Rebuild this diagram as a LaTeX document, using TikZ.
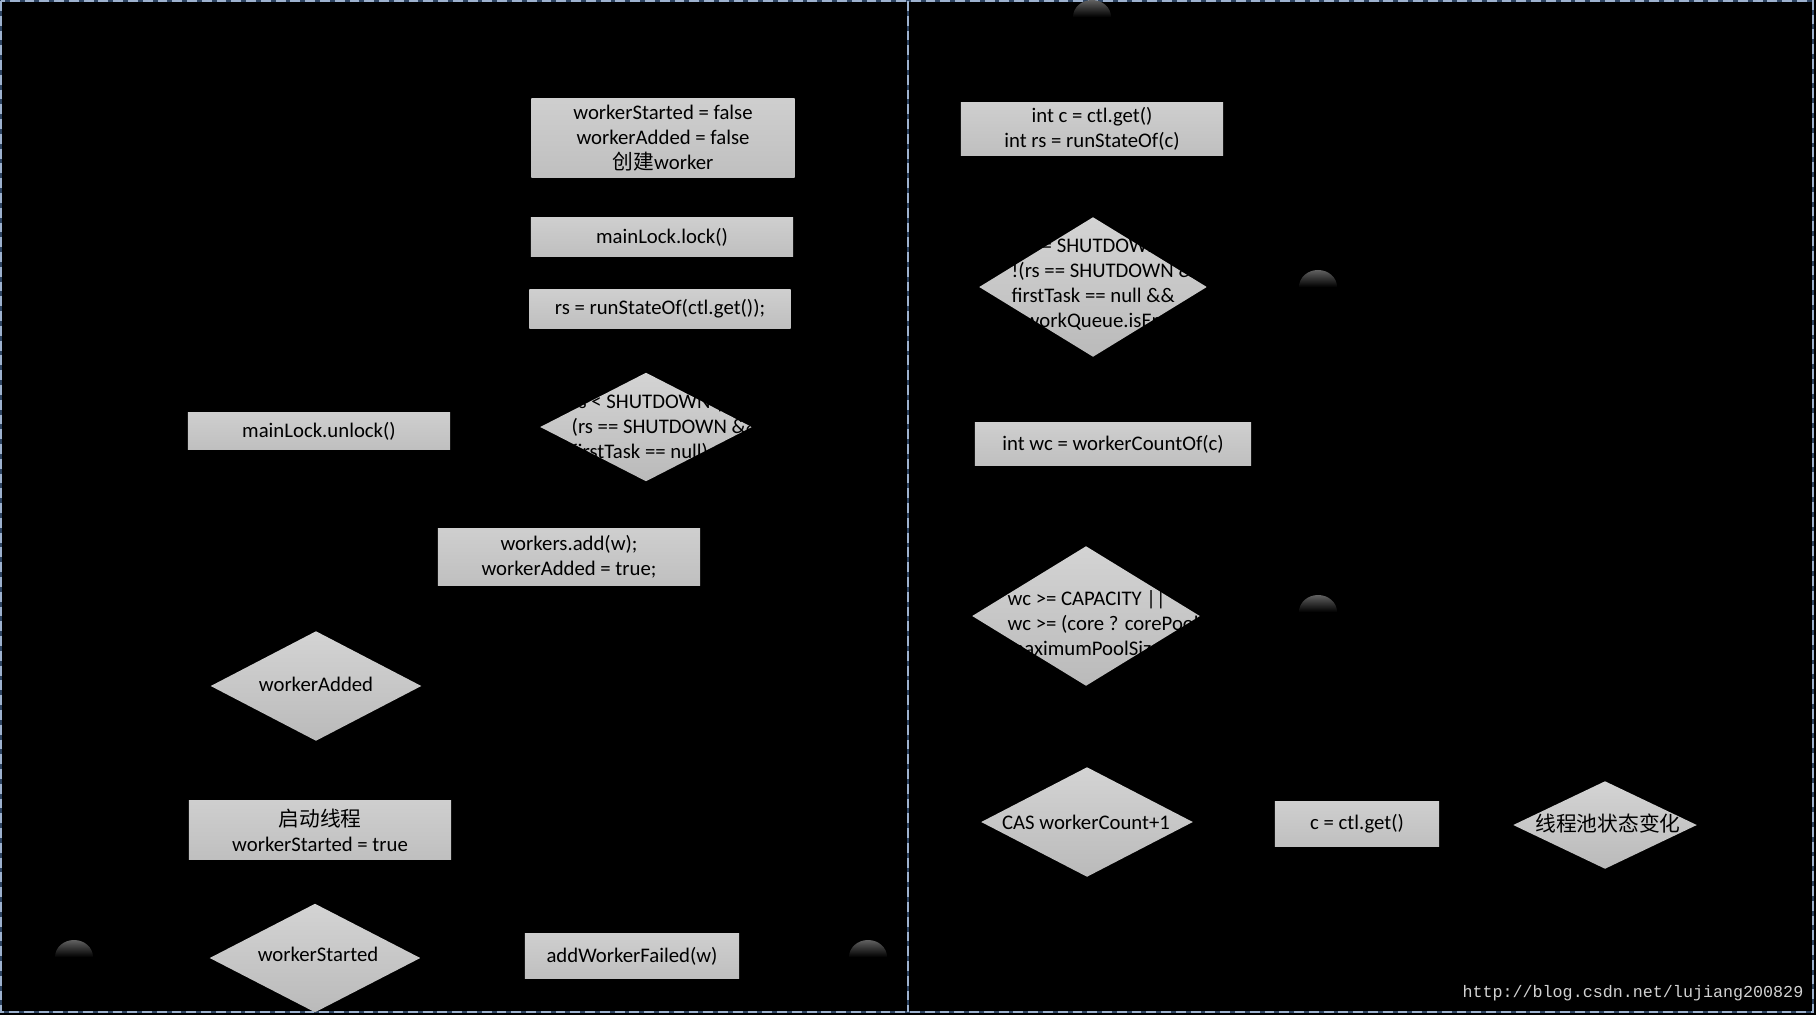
\documentclass[tikz,border=0pt]{standalone}
\usepackage{fontspec}
\setmainfont{Carlito}
\newfontfamily\cjk{Noto Sans CJK SC}
\newfontfamily\urlfont{Liberation Mono}
\usetikzlibrary{shapes.geometric}
\definecolor{DashLight}{HTML}{9DB2CF}
\definecolor{DashDark}{HTML}{2E4563}

\begin{document}
\begin{tikzpicture}[x=0.01cm, y=-0.01cm,
    every node/.style={font=\fontsize{5.9}{7.1}\selectfont, text=black},
    procbox/.style={rectangle, top color=black!19, middle color=black!10, bottom color=black!25, inner sep=0pt, align=center},
    decision/.style={diamond, top color=black!17, middle color=black!10, bottom color=black!27, inner sep=0pt},
    dtext/.style={align=center, inner sep=0pt},
    ltext/.style={align=left, anchor=west, inner sep=0pt}]
    \useasboundingbox (0,0) rectangle (1816,1015);
    \fill[black] (0,0) rectangle (1816,1015);
    % frame
    \draw[DashDark, line width=0.6pt] (1,1) rectangle (1813,1012) (908,1) -- (908,1012);
    \draw[DashLight, line width=0.6pt, dash pattern=on 2.8pt off 1.4pt] (1,1) rectangle (1813,1012) (908,1) -- (908,1012);
    \foreach \dx/\dy in {1092/17, 1318/287, 1318/612, 74/957, 868/957} {
        \shade[top color=black!62, bottom color=black] (\dx-19,\dy) arc[start angle=180, end angle=0, x radius=0.19cm, y radius=0.17cm] -- cycle;
    }
    % left part
    \node[procbox, minimum width=2.63cm, minimum height=0.79cm] (init) at (663,138) {workerStarted = false\\workerAdded = false\\{\cjk 创建}worker};
    \node[procbox, minimum width=2.62cm, minimum height=0.39cm] (lock) at (662,237) {mainLock.lock()};
    \node[procbox, minimum width=2.61cm, minimum height=0.38cm] (state) at (660,309) {rs = runStateOf(ctl.get());};
    \node[decision, minimum width=2.12cm, minimum height=1.09cm] (runcheck) at (646,427) {};
    \node[ltext] (runchecktxt) at (571,427) {rs < SHUTDOWN ||\\(rs == SHUTDOWN \&\&\\firstTask == null)};
    \node[procbox, minimum width=2.62cm, minimum height=0.37cm] (unlock) at (319,431) {mainLock.unlock()};
    \node[procbox, minimum width=2.62cm, minimum height=0.57cm] (addw) at (569,557) {workers.add(w);\\workerAdded = true;};
    \node[decision, minimum width=2.11cm, minimum height=1.10cm] (added) at (316,686) {};
    \node[dtext] (addedtxt) at (316,684) {workerAdded};
    \node[procbox, minimum width=2.62cm, minimum height=0.59cm] (start) at (320,830) {{\cjk 启动线程}\\workerStarted = true};
    \node[decision, minimum width=2.11cm, minimum height=1.09cm] (started) at (315,958) {};
    \node[dtext] (startedtxt) at (318,954) {workerStarted};
    \node[procbox, minimum width=2.14cm, minimum height=0.45cm] (failed) at (632,956) {addWorkerFailed(w)};
    % right part
    \node[procbox, minimum width=2.62cm, minimum height=0.52cm] (ctlget) at (1092,129) {int c = ctl.get()\\int rs = runStateOf(c)};
    \node[decision, minimum width=2.28cm, minimum height=1.40cm] (rscheck) at (1093,287) {};
    \node[ltext] (rschecktxt) at (1011,285) {rs >= SHUTDOWN \&\&\\!(rs == SHUTDOWN \&\&\\firstTask == null \&\&\\! workQueue.isEmpty())};
    \node[procbox, minimum width=2.76cm, minimum height=0.43cm] (count) at (1113,444) {int wc = workerCountOf(c)};
    \node[decision, minimum width=2.28cm, minimum height=1.40cm] (wccheck) at (1086,616) {};
    \node[ltext] (wcchecktxt) at (1007,624) {wc >= CAPACITY ||\\wc >= (core ? corePoolSize :\\maximumPoolSize)};
    \node[decision, minimum width=2.12cm, minimum height=1.10cm] (cas) at (1087,822) {};
    \node[dtext] (castxt) at (1086,822) {CAS workerCount+1};
    \node[procbox, minimum width=1.64cm, minimum height=0.45cm] (reget) at (1357,824) {c = ctl.get()};
    \node[decision, minimum width=1.84cm, minimum height=0.88cm] (poolstate) at (1605,825) {};
    \node[dtext, font=\cjk\fontsize{5.9}{7.1}\selectfont] (poolstatetxt) at (1608,824) {线程池状态变化};
    \node[font=\urlfont\fontsize{4.75}{5}\selectfont, text=black!18, anchor=base east, inner sep=0pt] (blogurl) at (1804,997) {http://blog.csdn.net/lujiang200829};
\end{tikzpicture}
\end{document}
